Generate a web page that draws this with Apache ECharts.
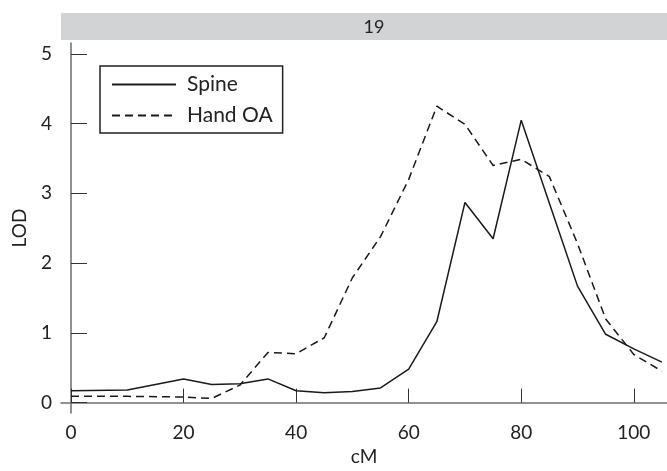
<!DOCTYPE html>
<html>
<head>
<meta charset="utf-8">
<script src="https://cdn.jsdelivr.net/npm/echarts@6/dist/echarts.min.js"></script>
<style>
  html, body { margin: 0; padding: 0; background: #fff; }
  #chart { width: 667px; height: 471px; }
</style>
</head>
<body>
<div id="chart"></div>
<script>
// positions along the chromosome (cM)
var positions = [0, 10, 20, 25, 30, 35, 40, 45, 50, 55, 60, 65, 70, 75, 80, 85, 90, 95, 100, 105]
var spineLod = [0.17, 0.18, 0.34, 0.26, 0.27, 0.34, 0.17, 0.14, 0.16, 0.21, 0.48, 1.16, 2.87, 2.35, 4.05, 2.86, 1.67, 0.98, 0.77, 0.58]
var handLod = [0.09, 0.09, 0.08, 0.06, 0.25, 0.72, 0.70, 0.93, 1.79, 2.38, 3.2, 4.25, 3.99, 3.40, 3.49, 3.24, 2.28, 1.20, 0.69, 0.45]
var xTicks = [0, 20, 40, 60, 80, 100]
var yTicks = [0, 1, 2, 3, 4, 5]
var panelLabel = '19'

var font = 'Lato, "DejaVu Sans", sans-serif'
var axisGrey = '#6d6d6d'

function pairs (ys) {
  return positions.map(function (x, i) { return [x, ys[i]] })
}

var chart = echarts.init(document.getElementById('chart'))
chart.setOption({
  backgroundColor: '#fff',
  animation: false,
  textStyle: { fontFamily: font },
  grid: { left: 61, right: 0, top: 43, bottom: 54 },
  graphic: [
    {
      type: 'rect',
      shape: { x: 61, y: 13, width: 606, height: 27 },
      style: { fill: '#d2d3d5' }
    },
    {
      type: 'text',
      x: 374,
      y: 27,
      style: {
        text: panelLabel,
        fontFamily: font,
        fontSize: 18,
        fill: '#222',
        align: 'center',
        verticalAlign: 'middle'
      }
    }
  ],
  legend: {
    left: 100,
    top: 66,
    orient: 'vertical',
    borderColor: '#222',
    borderWidth: 1.5,
    padding: [8, 10, 7, 11],
    itemWidth: 64,
    itemHeight: 14,
    itemGap: 10,
    itemStyle: { opacity: 0 },
    textStyle: { fontFamily: font, fontSize: 21, color: '#222', padding: [0, 0, 0, 6] },
    data: ['Spine', 'Hand OA']
  },
  xAxis: {
    type: 'value',
    min: -1.78,
    max: 105.9,
    name: 'cM',
    nameLocation: 'middle',
    nameGap: 34,
    nameTextStyle: { fontFamily: font, fontSize: 19, color: '#222' },
    splitLine: { show: false },
    axisLine: { lineStyle: { color: axisGrey, width: 1.5 } },
    axisTick: { inside: true, length: 14, customValues: xTicks, lineStyle: { color: '#333', width: 1 } },
    axisLabel: { customValues: xTicks, margin: 10, fontFamily: font, fontSize: 19, color: '#222' }
  },
  yAxis: {
    type: 'value',
    min: -0.149,
    max: 5.156,
    name: 'LOD',
    nameLocation: 'middle',
    nameGap: 32,
    nameTextStyle: { fontFamily: font, fontSize: 19, color: '#222' },
    splitLine: { show: false },
    axisLine: { show: true, lineStyle: { color: axisGrey, width: 1.5 } },
    axisTick: { show: true, inside: true, length: 16, customValues: yTicks, lineStyle: { color: '#333', width: 1 } },
    axisLabel: { customValues: yTicks, margin: 9, fontFamily: font, fontSize: 19, color: '#222' }
  },
  series: [
    {
      name: 'Spine',
      type: 'line',
      data: pairs(spineLod),
      symbol: 'none',
      lineStyle: { color: '#1a1a1a', width: 1.5, type: 'solid' },
      itemStyle: { color: '#1a1a1a' }
    },
    {
      name: 'Hand OA',
      type: 'line',
      data: pairs(handLod),
      symbol: 'none',
      lineStyle: { color: '#1a1a1a', width: 1.5, type: [8, 5] },
      itemStyle: { color: '#1a1a1a' }
    }
  ]
})
</script>
</body>
</html>
